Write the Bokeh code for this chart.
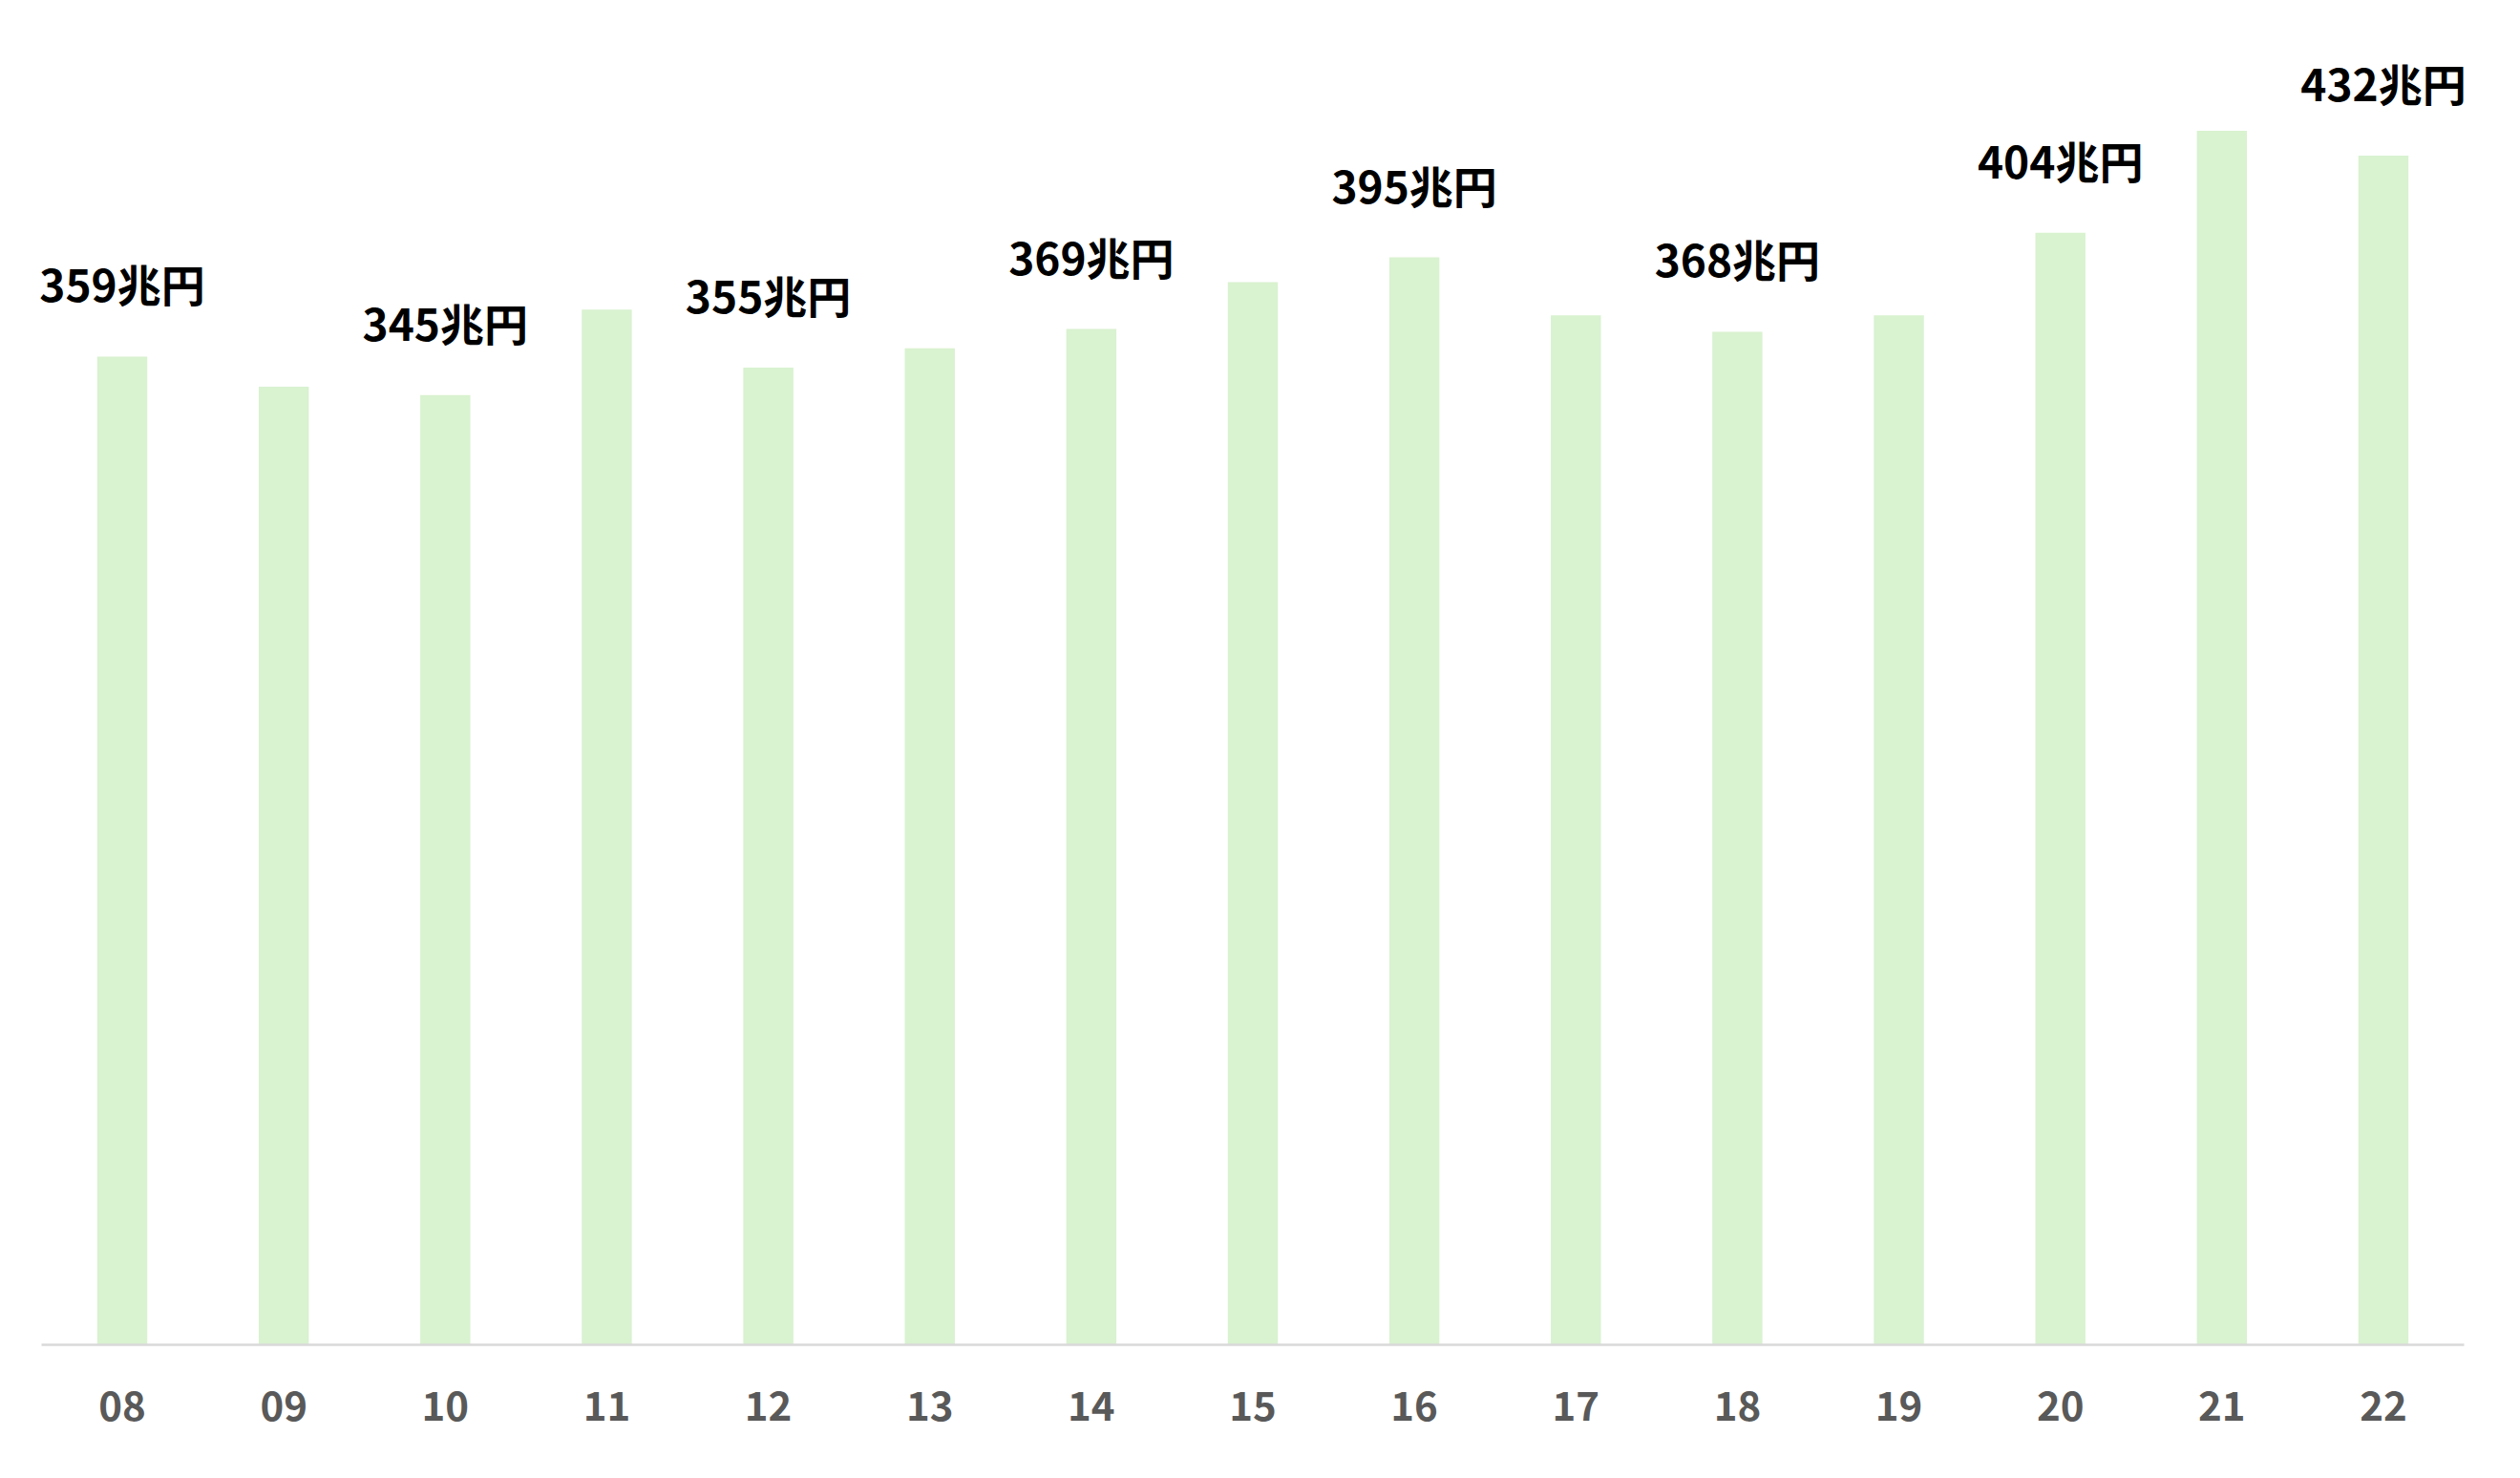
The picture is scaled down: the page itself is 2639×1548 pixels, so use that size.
from bokeh.plotting import figure
from bokeh.models import ColumnDataSource, FactorRange, Range1d, LabelSet
from bokeh.core.properties import value
from bokeh.embed import file_html
from bokeh.resources import INLINE

years = ["08", "09", "10", "11", "12", "13", "14", "15", "16", "17", "18", "19", "20", "21", "22"]
amounts = [359, 348, 345, 376, 355, 362, 369, 386, 395, 374, 368, 374, 404, 441, 432]
label_years = ["08", "10", "12", "14", "16", "18", "20", "22"]
label_values = [359, 345, 355, 369, 395, 368, 404, 432]
label_texts = [f"{v}兆円" for v in label_values]

bars = ColumnDataSource(dict(x=years, top=amounts))
labels = ColumnDataSource(dict(x=label_years, y=label_values, t=label_texts))

p = figure(
    width=2623, height=1532,
    x_range=FactorRange(factors=years, range_padding=0.254, range_padding_units="absolute"),
    y_range=Range1d(0, 480),
    output_backend="svg", toolbar_location=None,
    min_border_left=0, min_border_right=0, min_border_top=24, min_border_bottom=124,
)
p.outline_line_color = None
p.background_fill_color = "white"
p.border_fill_color = "white"
p.xgrid.grid_line_color = None
p.ygrid.grid_line_color = None
p.yaxis.visible = False

p.vbar(x="x", top="top", width=0.31, source=bars, fill_color="#d9f2d0", line_color=None)

ls = LabelSet(x="x", y="y", text="t", source=labels, text_align="center", text_baseline="alphabetic",
              y_offset=57, text_font=value("Noto Sans CJK JP"), text_font_style="bold",
              text_font_size="46px", text_color="#000000")
p.add_layout(ls)

ax = p.xaxis[0]
ax.bounds = (0, len(years))
ax.axis_line_color = "#d9d9d9"
ax.axis_line_width = 2.5
ax.major_tick_line_color = None
ax.minor_tick_line_color = None
ax.major_tick_out = 0
ax.major_tick_in = 0
ax.major_label_standoff = 48
ax.major_label_text_font = "Noto Sans CJK JP"
ax.major_label_text_font_style = "bold"
ax.major_label_text_font_size = "42px"
ax.major_label_text_color = "#595959"

open("out.html", "w").write(file_html(p, INLINE))
